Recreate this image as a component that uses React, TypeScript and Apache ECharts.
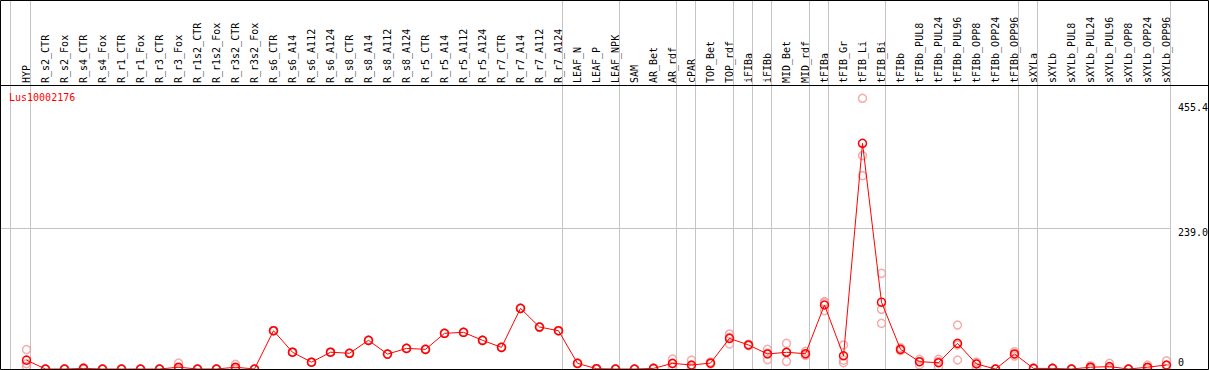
import React, { useEffect, useRef } from "react";
import * as echarts from "echarts";

const geneName = "Lus10002176";

const categories = [
  "HYP", "R_s2_CTR", "R_s2_Fox", "R_s4_CTR", "R_s4_Fox", "R_r1_CTR", "R_r1_Fox", "R_r3_CTR", "R_r3_Fox",
  "R_r1s2_CTR", "R_r1s2_Fox", "R_r3s2_CTR", "R_r3s2_Fox", "R_s6_CTR", "R_s6_A14", "R_s6_A112", "R_s6_A124",
  "R_s8_CTR", "R_s8_A14", "R_s8_A112", "R_s8_A124", "R_r5_CTR", "R_r5_A14", "R_r5_A112", "R_r5_A124",
  "R_r7_CTR", "R_r7_A14", "R_r7_A112", "R_r7_A124", "LEAF_N", "LEAF_P", "LEAF_NPK", "SAM", "AR_Bet", "AR_rdf",
  "cPAR", "TOP_Bet", "TOP_rdf", "iFIBa", "iFIBb", "MID_Bet", "MID_rdf", "tFIBa", "tFIB_Gr", "tFIB_Li", "tFIB_Bi",
  "tFIBb", "tFIBb_PUL8", "tFIBb_PUL24", "tFIBb_PUL96", "tFIBb_OPP8", "tFIBb_OPP24", "tFIBb_OPP96",
  "sXYLa", "sXYLb", "sXYLb_PUL8", "sXYLb_PUL24", "sXYLb_PUL96", "sXYLb_OPP8", "sXYLb_OPP24", "sXYLb_OPP96",
];

const meanValues = [
  15, 0, 0, 1, 0, 0, 0, 0, 3,
  0, 0, 3, 0, 65, 28.5, 11.5, 28.5,
  26.7, 48.7, 25.3, 35, 33.4, 60.6, 62.3, 48.7,
  36.8, 103, 71.3, 65, 9.6, 0.5, 0, 0, 1, 9.6,
  6.8, 10, 52, 40.8, 25.5, 28.4, 26, 108.7, 22.5, 383.4, 113.5,
  33.4, 12.4, 10.7, 43.6, 8.5, 0, 25.5,
  1, 1, 0, 3, 4, 0, 3, 6.8,
];

const rep1 = [
  33, 0, 0, 2, 0, 0, 0, 0, 10,
  0, 0, 8, 0, 65, 28.5, 11.5, 28.5,
  26.7, 48.7, 25.3, 35, 33.4, 60.6, 62.3, 48.7,
  36.8, 103, 71.3, 65, 9.6, 0.5, 0, 0, 1, 17,
  15, 12, 59.5, 42, 33.4, 43.6, 30, 114.4, 40.8, 459.8, 162.5,
  36, 16.5, 16.5, 74.7, 11.8, 0, 29.4,
  1, 1, 0, 5.6, 9.6, 0, 6.8, 14,
];

const rep2 = [
  4, 0, 0, 1, 0, 0, 0, 0, 0,
  0, 0, 1, 0, 65, 28.5, 11.5, 28.5,
  26.7, 48.7, 25.3, 35, 33.4, 60.6, 62.3, 48.7,
  36.8, 103, 71.3, 65, 9.6, 0.5, 0, 0, 1, 9,
  5, 9, 54, 40.8, 27, 28.4, 25, 112.6, 15, 362.5, 101.4,
  33.4, 12.4, 12.5, 40.8, 10, 0, 25.5,
  1, 1, 0, 3, 2, 0, 2, 6,
];

const rep3 = [
  9, 0, 0, 0, 0, 0, 0, 0, 0,
  0, 0, 0, 0, 65, 28.5, 11.5, 28.5,
  26.7, 48.7, 25.3, 35, 33.4, 60.6, 62.3, 48.7,
  36.8, 103, 71.3, 65, 9.6, 0.5, 0, 0, 1, 3,
  0.5, 9, 42.5, 39.5, 15.8, 13, 23, 99, 10.7, 328.4, 77.6,
  31, 6.8, 3, 15.3, 3, 0, 22,
  1, 1, 0, 0.5, 0.5, 0, 0.3, 0.5,
];

// last category of each sample group (a separator is drawn after it)
const groupEnds = [
  "HYP", "R_r7_A124", "LEAF_NPK", "AR_rdf", "cPAR", "TOP_rdf", "iFIBa", "iFIBb",
  "MID_rdf", "tFIBa", "tFIB_Bi", "tFIBb_OPP96", "sXYLa", "sXYLb_OPP96",
];

const yTickValues = [455.4, 239.0, 0];
const yTickLabels = ["455.4", "239.0", "0"];
const gridLineValues = [239.0];
const yMax = 482.4;

export default function App() {
  const ref = useRef<HTMLDivElement>(null);

  useEffect(() => {
    const chart = echarts.init(ref.current!, null, { renderer: "svg" });
    const font = "'DejaVu Sans Mono', monospace";
    const W = 1209;
    const H = 370;

    const repSeries = [rep1, rep2, rep3].map((arr) => ({
      type: "scatter",
      data: arr.map((v, i) => [categories[i], v]),
      symbol: "circle",
      symbolSize: 8,
      silent: true,
      z: 3,
      itemStyle: { color: "rgba(0,0,0,0)", borderColor: "#f09898", borderWidth: 1.5 },
    }));

    chart.setOption({
      animation: false,
      grid: { left: 17, right: 33, top: 85, bottom: 1 },
      xAxis: {
        type: "category",
        data: categories,
        position: "top",
        boundaryGap: true,
        axisLine: { show: false },
        axisTick: { show: false },
        splitLine: { show: false },
        axisLabel: {
          interval: 0,
          rotate: 90,
          margin: 2,
          fontFamily: font,
          fontSize: 10,
          color: "#000",
        },
      },
      yAxis: { type: "value", min: 0, max: yMax, show: false },
      series: [
        ...repSeries,
        {
          type: "line",
          data: meanValues,
          symbol: "circle",
          symbolSize: 8,
          showAllSymbol: true,
          silent: true,
          z: 4,
          lineStyle: { color: "#ff0000", width: 1 },
          itemStyle: { color: "rgba(0,0,0,0)", borderColor: "#ff0000", borderWidth: 1.5 },
        },
      ],
    });

    const xOf = (i: number) => chart.convertToPixel({ xAxisIndex: 0 }, i) as number;
    const yOf = (v: number) => chart.convertToPixel({ yAxisIndex: 0 }, v) as number;
    const gridRight = W - 33;

    const sepXs = [Math.floor(xOf(0) - 16) + 0.5].concat(
      groupEnds.map((c) => Math.floor(xOf(categories.indexOf(c)) + 4) + 0.5)
    );
    const lastSep = sepXs[sepXs.length - 1];

    const graphics: any[] = [];
    sepXs.forEach((x) => {
      graphics.push({
        type: "line",
        z: 1,
        silent: true,
        shape: { x1: x, y1: 0, x2: x, y2: H },
        style: { stroke: "#c4c4c4", lineWidth: 1 },
      });
    });
    gridLineValues.forEach((v) => {
      const y = Math.round(yOf(v)) + 0.5;
      graphics.push({
        type: "line",
        z: 1,
        silent: true,
        shape: { x1: 0, y1: y, x2: lastSep, y2: y },
        style: { stroke: "#c4c4c4", lineWidth: 1 },
      });
    });
    yTickValues.forEach((v, k) => {
      const y = Math.min(Math.max(yOf(v) + 4, 107), 362);
      graphics.push({
        type: "text",
        z: 6,
        silent: true,
        x: gridRight + 2,
        y,
        style: {
          text: yTickLabels[k],
          font: `10px ${font}`,
          fill: "#000",
          textAlign: "left",
          textVerticalAlign: "middle",
        },
      });
    });
    graphics.push({
      type: "text",
      z: 6,
      silent: true,
      x: 9,
      y: 97,
      style: {
        text: geneName,
        font: `10px ${font}`,
        fill: "#ff0000",
        textAlign: "left",
        textVerticalAlign: "middle",
      },
    });
    graphics.push({
      type: "line",
      z: 10,
      silent: true,
      shape: { x1: 0, y1: 85.5, x2: W, y2: 85.5 },
      style: { stroke: "#000", lineWidth: 1 },
    });
    graphics.push({
      type: "rect",
      z: 10,
      silent: true,
      shape: { x: 0.5, y: 0.5, width: W - 1, height: H - 1 },
      style: { fill: "none", stroke: "#000", lineWidth: 1 },
    });

    chart.setOption({ graphic: graphics });

    return () => chart.dispose();
  }, []);

  return (
    <div
      ref={ref}
      style={{ position: "absolute", left: 0, top: 0, width: 1209, height: 370, background: "#fff" }}
    />
  );
}
